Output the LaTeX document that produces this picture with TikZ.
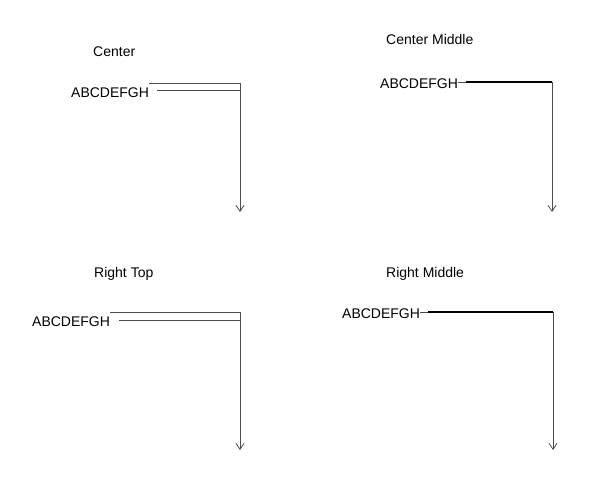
\documentclass[tikz,border=0pt]{standalone}
\usepackage{fontspec}
\setmainfont{Liberation Sans}
\usetikzlibrary{arrows.meta}
\begin{document}
\begin{tikzpicture}[x = 1pt, y = -1pt, font = \fontsize{14}{16}\selectfont]
	\tikzstyle{titleStyle} = [anchor = base west, inner sep = 0pt]
	\tikzstyle{labelStyle} = [anchor = base west, inner sep = 0pt]
	\tikzstyle{thinLine} = [draw = black!70, line width = 0.8pt]
	\tikzstyle{thickLine} = [draw = black, line width = 1.3pt]
	\tikzstyle{tipStyle} = [-{Straight Barb[length = 6pt, width = 8pt]}]
	\useasboundingbox (0,0) rectangle (589,496);
	% Center
	\node[titleStyle] (tC) at (93,56) {Center};
	\node[labelStyle] (lC) at (71,97) {ABCDEFGH};
	\coordinate (kC) at (240,83);
	\coordinate (eC) at (240,212);
	\coordinate (sC) at (157,90);
	\coordinate (jC) at (240,90);
	\draw[thinLine, tipStyle] (lC.east |- kC) -- (kC) -- (eC);
	\draw[thinLine] (sC) -- (jC);
	% Center Middle
	\node[titleStyle] (tCM) at (386,44) {Center Middle};
	\node[labelStyle] (lCM) at (380,88) {ABCDEFGH};
	\coordinate (bCM) at (466,82);
	\coordinate (kCM) at (552,82);
	\coordinate (eCM) at (552,212);
	\draw[thinLine] (lCM.east |- bCM) -- (bCM);
	\draw[thickLine] (bCM) -- (kCM);
	\draw[thinLine, tipStyle] (kCM) -- (eCM);
	% Right Top
	\node[titleStyle] (tRT) at (94,277) {Right Top};
	\node[labelStyle] (lRT) at (32,326) {ABCDEFGH};
	\coordinate (kRT) at (240,312);
	\coordinate (eRT) at (240,450);
	\coordinate (sRT) at (119,320);
	\coordinate (jRT) at (240,320);
	\draw[thinLine, tipStyle] (lRT.east |- kRT) -- (kRT) -- (eRT);
	\draw[thinLine] (sRT) -- (jRT);
	% Right Middle
	\node[titleStyle] (tRM) at (386,277) {Right Middle};
	\node[labelStyle] (lRM) at (342,318) {ABCDEFGH};
	\coordinate (bRM) at (428,312);
	\coordinate (kRM) at (553,312);
	\coordinate (eRM) at (553,450);
	\draw[thinLine] (lRM.east |- bRM) -- (bRM);
	\draw[thickLine] (bRM) -- (kRM);
	\draw[thinLine, tipStyle] (kRM) -- (eRM);
\end{tikzpicture}
\end{document}
